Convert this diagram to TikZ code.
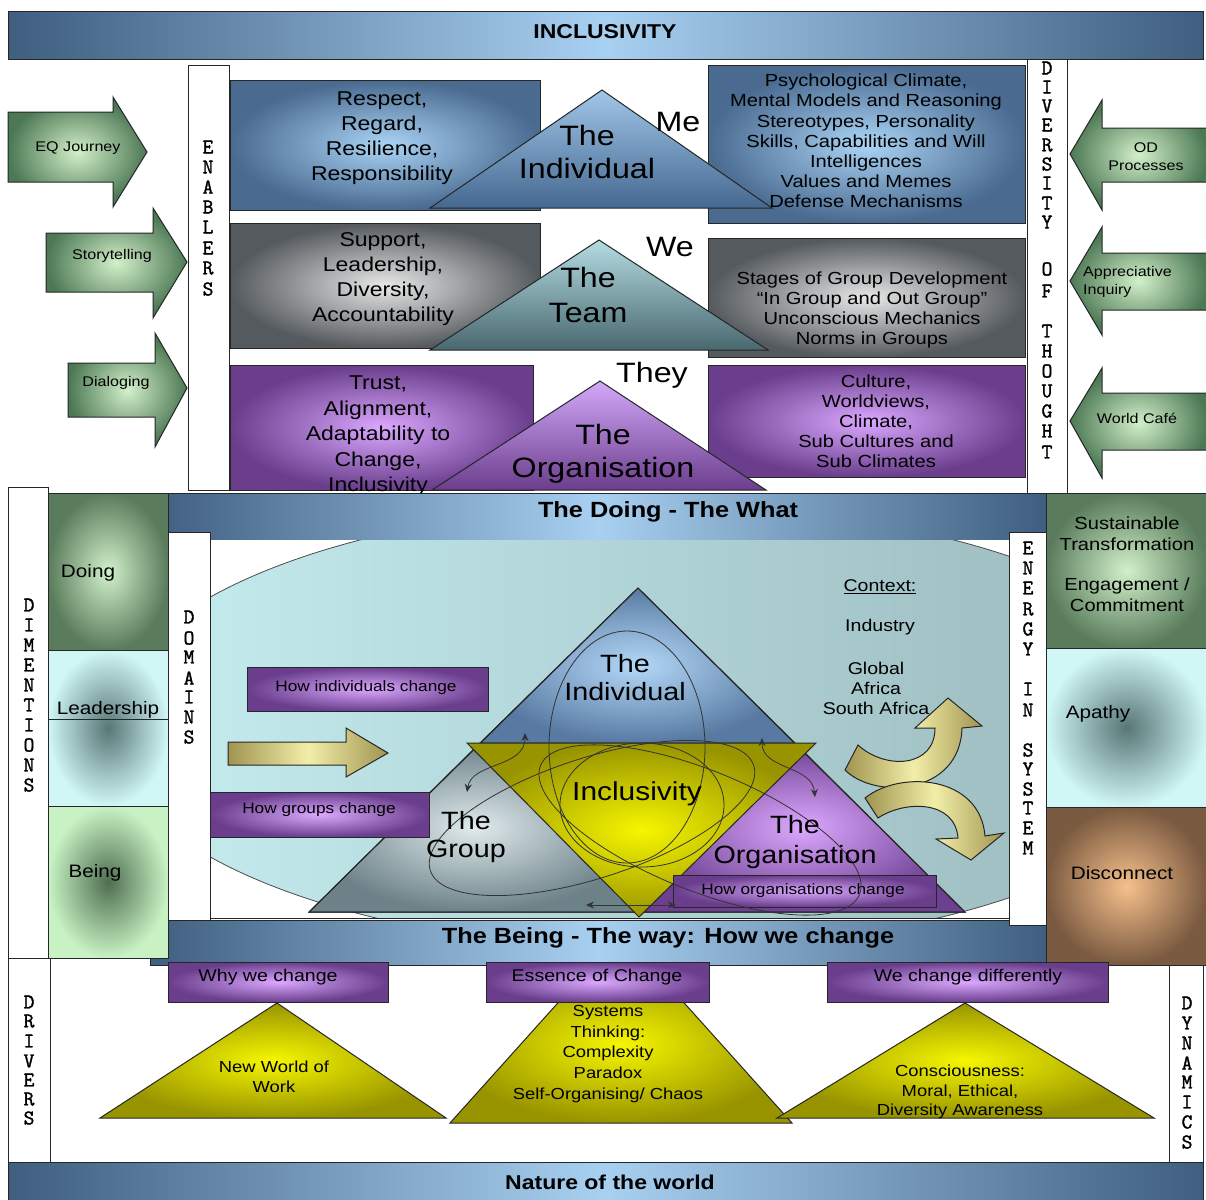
\documentclass[tikz,border=0pt]{standalone}
\usepackage{fontspec}
\setmainfont{Liberation Sans}[FakeStretch=1.15]
\newfontfamily\vfont{Latin Modern Mono}[FakeBold=1.6]
\usetikzlibrary{arrows.meta}
\definecolor{barD}{HTML}{3F5E80}
\definecolor{barL}{HTML}{A8D0F0}
\definecolor{bluD}{HTML}{4A6A90}
\definecolor{bluL}{HTML}{AAD4F6}
\definecolor{gryD}{HTML}{555A5E}
\definecolor{gryL}{HTML}{E8E8E8}
\definecolor{purD}{HTML}{6A3E8C}
\definecolor{purL}{HTML}{DAA8FF}
\definecolor{grnD}{HTML}{4C7854}
\definecolor{grnL}{HTML}{D2F0CA}
\definecolor{grnE}{HTML}{5A7C5C}
\definecolor{cyaL}{HTML}{D0F6F6}
\definecolor{cyaD}{HTML}{587676}
\definecolor{brnD}{HTML}{7A5A40}
\definecolor{brnL}{HTML}{F6C08C}
\definecolor{yelL}{HTML}{F6F600}
\definecolor{yelD}{HTML}{989400}
\definecolor{gldL}{HTML}{F2EEA8}
\definecolor{gldD}{HTML}{A09450}
\definecolor{ctxL}{HTML}{C6EEF0}
\definecolor{ctxR}{HTML}{98B6BA}
\definecolor{lgrL}{HTML}{C8F2C4}
\definecolor{lgrD}{HTML}{4E6E50}
\definecolor{triBT}{HTML}{A0C6E8}
\definecolor{triBB}{HTML}{456890}
\definecolor{triTT}{HTML}{B4DCE2}
\definecolor{triTB}{HTML}{48686E}
\definecolor{triPT}{HTML}{D4A8FA}
\definecolor{triPB}{HTML}{6A3E8C}
\definecolor{cBl}{HTML}{B4D8F8}
\definecolor{cBd}{HTML}{587AA2}
\definecolor{cGl}{HTML}{E0EAEC}
\definecolor{cGd}{HTML}{6C8288}
\definecolor{cPl}{HTML}{DCA8FF}
\definecolor{cPd}{HTML}{6C3F90}
\tikzset{
  olx/.style={draw=black!85, line width=1pt},
  barx/.style={olx, left color=barD, right color=barD, middle color=barL},
  stripx/.style={olx, fill=white},
  vlet/.style={inner sep=0pt, font=\vfont\fontsize{21}{21}\selectfont},
  radx/.style 2 args={olx, inner color=#1, outer color=#2},
  tbx/.style 2 args={olx, top color=#1, bottom color=#2},
  labx/.style={inner sep=0pt, align=center},
  fsx/.style 2 args={font=\fontsize{#1}{#2}\selectfont},
  bfx/.style 2 args={font=\bfseries\fontsize{#1}{#2}\selectfont},
  vloopx/.style={draw=black!80, line width=0.8pt},
  sarrx/.style={vloopx, {Stealth[length=8pt,width=7pt]}-{Stealth[length=8pt,width=7pt]}},
  garx/.style={olx, inner color=grnL, outer color=grnD},
  goldx/.style={olx, left color=gldD, right color=gldD, middle color=gldL},
}
\begin{document}
\begin{tikzpicture}[x=1pt,y=-1pt]
\useasboundingbox (0,0) rectangle (1206,1199);
\fill[white] (0,0) rectangle (1206,1199);

% ---------- top banner ----------
\draw[barx] (8,12) rectangle (1203,60);
\node[labx, bfx={20}{20}] (incl) at (605,32) {INCLUSIVITY};

% ---------- side strips (top) ----------
\draw[stripx] (188,65) rectangle (229,490);
\draw[stripx] (1027,60) rectangle (1067,493);
\foreach \ch/\yy [count=\i] in {E/147,N/167,A/187,B/207,L/227,E/248,R/268,S/289}
  \node[vlet] (en\i) at (208,\yy) {\ch};
\foreach \ch/\yy [count=\i] in {D/68,I/87,V/106,E/125,R/145,S/164,I/183,T/203,Y/222,O/269,F/291,T/331,H/351,O/371,U/391,G/411,H/431,T/452}
  \node[vlet] (dv\i) at (1047,\yy) {\ch};

% ---------- green arrows ----------
\draw[garx] (8,112) -- (113,112) -- (113,97) -- (147,152) -- (113,207) -- (113,182) -- (8,182) -- cycle;
\draw[garx] (46,233) -- (153,233) -- (153,208) -- (187,262) -- (153,318) -- (153,292) -- (46,292) -- cycle;
\draw[garx] (68,363) -- (155,363) -- (155,333) -- (187,388) -- (155,447) -- (155,417) -- (68,417) -- cycle;
\draw[garx] (1207,128) -- (1102,128) -- (1102,100) -- (1070,154) -- (1102,210) -- (1102,182) -- (1207,182) -- cycle;
\draw[garx] (1207,253) -- (1102,253) -- (1102,227) -- (1070,281) -- (1102,335) -- (1102,310) -- (1207,310) -- cycle;
\draw[garx] (1207,393) -- (1102,393) -- (1102,368) -- (1070,421) -- (1102,478) -- (1102,450) -- (1207,450) -- cycle;
\node[labx, fsx={14}{17}] (eq) at (78,148) {EQ Journey};
\node[labx, fsx={14}{17}] (story) at (112,256) {Storytelling};
\node[labx, fsx={14}{17}] (dialog) at (116,383) {Dialoging};
\node[labx, fsx={14}{18}] (odp) at (1146,157) {OD\\Processes};
\node[inner sep=0pt, align=left, anchor=west, fsx={14}{18}] (appr) at (1083,282) {Appreciative\\Inquiry};
\node[labx, fsx={14}{17}] (cafe) at (1137,418) {World Café};

% ---------- row 1 ----------
\draw[radx={bluL}{bluD}] (230,80) rectangle (540,210);
\draw[radx={bluL}{bluD}] (708,65) rectangle (1025,223);
\draw[tbx={triBT}{triBB}] (430,208) -- (602,90) -- (772,208) -- cycle;
\node[labx, fsx={20}{25}] (r1l) at (382,138) {Respect,\\Regard,\\Resilience,\\Responsibility};
\node[labx, fsx={17.5}{20.2}] (r1r) at (866,141) {Psychological Climate,\\Mental Models and Reasoning\\Stereotypes, Personality\\Skills, Capabilities and Will\\Intelligences\\Values and Memes\\Defense Mechanisms};
\node[labx, fsx={28}{33}] (ind) at (587,152) {The\\Individual};
\node[labx, fsx={28}{28}] (me) at (678,122) {Me};

% ---------- row 2 ----------
\draw[radx={gryL}{gryD}] (230,223) rectangle (540,348);
\draw[radx={gryL}{gryD}] (708,238) rectangle (1025,357);
\draw[tbx={triTT}{triTB}] (430,350) -- (599,240) -- (768,350) -- cycle;
\node[labx, fsx={20}{25}] (r2l) at (383,279) {Support,\\Leadership,\\Diversity,\\Accountability};
\node[labx, fsx={17.5}{20}] (r2r) at (872,310) {Stages of Group Development\\``In Group and Out Group''\\Unconscious Mechanics\\Norms in Groups};
\node[labx, fsx={28}{35}] (team) at (588,295) {The\\Team};
\node[labx, fsx={28}{28}] (we) at (670,247) {We};

% ---------- row 3 ----------
\draw[radx={purL}{purD}] (230,365) rectangle (533,490);
\draw[radx={purL}{purD}] (708,365) rectangle (1025,477);
\draw[tbx={triPT}{triPB}] (432,490) -- (600,381) -- (766,490) -- cycle;
\node[labx, fsx={20}{25.5}] (r3l) at (378,436) {Trust,\\Alignment,\\Adaptability to\\Change,\\Inclusivity};
\node[labx, fsx={17.5}{20}] (r3r) at (876,421) {Culture,\\Worldviews,\\Climate,\\Sub Cultures and\\Sub Climates};
\node[labx, fsx={28}{33}] (org) at (603,454) {The\\Organisation};
\node[labx, fsx={28}{28}] (they) at (652,375) {They};

% ---------- bottom frame ----------
\draw[olx, fill=white] (8,958) rectangle (1203,1162);
\draw[olx] (50,958) -- (50,1162);
\draw[olx] (1169,960) -- (1169,1162);

% ---------- middle section ----------
\draw[stripx] (8,487) rectangle (48,958);
\draw[barx] (150,493) rectangle (1046,540);
\draw[barx] (150,920) rectangle (1046,965);
\node[labx, bfx={22}{22}] (doing) at (668,512) {The Doing - The What};
\node[labx, bfx={22}{22}] (being) at (668,938) {The Being - The way: How we change};
\fill[white] (210,540) rectangle (1009,918);
\begin{scope}
  \clip (210,540) rectangle (1009,918);
  \draw[draw=black!70, line width=0.8pt, left color=ctxL, right color=ctxR] (657,727) ellipse [x radius=551pt, y radius=222pt];
\end{scope}
\draw[olx] (210,540) -- (210,918) -- (1009,918);
\draw[stripx] (168,532) rectangle (210,920);
\draw[stripx] (1009,532) rectangle (1046,925);
\foreach \ch/\yy [count=\i] in {D/605,I/625,M/645,E/665,N/685,T/705,I/725,O/745,N/765,S/785}
  \node[vlet] (dm\i) at (29,\yy) {\ch};
\foreach \ch/\yy [count=\i] in {D/617,O/638,M/657,A/678,I/697,N/717,S/737}
  \node[vlet] (do\i) at (189,\yy) {\ch};
\foreach \ch/\yy [count=\i] in {E/548,N/568,E/588,R/609,G/629,Y/649,I/689,N/710,S/750,Y/769,S/789,T/808,E/828,M/848}
  \node[vlet] (es\i) at (1028,\yy) {\ch};

% left boxes
\draw[radx={grnL}{grnE}] (48,493) rectangle (168,650);
\draw[radx={cyaD}{cyaL}] (48,650) rectangle (168,806);
\draw[olx] (48,719) -- (168,719);
\draw[radx={lgrD}{lgrL}] (48,806) rectangle (168,958);
\node[labx, fsx={18}{18}] (bdoing) at (88,573) {Doing};
\node[labx, fsx={18}{18}] (blead) at (108,710) {Leadership};
\node[labx, fsx={18}{18}] (bbeing) at (95,873) {Being};

% right boxes
\draw[radx={grnL}{grnE}] (1046,493) rectangle (1207,648);
\draw[radx={cyaD}{cyaL}] (1046,648) rectangle (1207,807);
\draw[radx={brnL}{brnD}] (1046,807) rectangle (1207,965);
\node[labx, fsx={17.5}{21}] (sust) at (1127,534) {Sustainable\\Transformation};
\node[labx, fsx={17.5}{21}] (eng) at (1127,595) {Engagement /\\Commitment};
\node[labx, fsx={18}{18}] (apathy) at (1098,714) {Apathy};
\node[labx, fsx={18}{18}] (disc) at (1122,873) {Disconnect};

% central triangle
\draw[radx={cBl}{cBd}] (638,588) -- (480,743) -- (795,743) -- cycle;
\draw[radx={cGl}{cGd}] (480,743) -- (309,912) -- (639,912) -- cycle;
\draw[radx={cPl}{cPd}] (795,743) -- (965,912) -- (639,912) -- cycle;
\draw[olx] (638,588) -- (309,912) -- (965,912) -- cycle;
\draw[radx={yelL}{yelD}] (467,743) -- (816,743) -- (639,917) -- cycle;

% purple boxes in middle
\draw[radx={purL}{purD}] (247,667) rectangle (488,711);
\draw[radx={purL}{purD}] (210,792) rectangle (429,837);
\draw[radx={purL}{purD}] (673,875) rectangle (936,907);
\node[labx, fsx={15}{15}] (hind) at (366,688) {How individuals change};
\node[labx, fsx={15}{15}] (hgrp) at (319,810) {How groups change};
\node[labx, fsx={15}{15}] (horg) at (803,891) {How organisations change};

% loops
\draw[vloopx] (627,747) ellipse [x radius=78pt, y radius=116pt];
\draw[vloopx, rotate around={18:(592,818)}] (592,818) ellipse [x radius=170pt, y radius=60pt];
\draw[vloopx, rotate around={-22:(700,830)}] (700,830) ellipse [x radius=172pt, y radius=60pt];
\draw[vloopx] (642,805) ellipse [x radius=82pt, y radius=62pt];
\coordinate (la1) at (525,733); \coordinate (la2) at (467,792);
\coordinate (ra1) at (762,738); \coordinate (ra2) at (815,797);
\coordinate (ba1) at (586,905); \coordinate (ba2) at (676,905);
\draw[sarrx] (la1) .. controls (525,768) and (472,762) .. (la2);
\draw[sarrx] (ra1) .. controls (762,770) and (812,765) .. (ra2);
\draw[sarrx] (ba1) -- (ba2);

% triangle labels
\node[labx, fsx={25}{28}] (mind) at (625,678) {The\\Individual};
\node[labx, fsx={26}{26}] (mincl) at (637,794) {Inclusivity};
\node[labx, fsx={25}{28}] (mgrp) at (466,837) {The\\Group};
\node[labx, fsx={25}{30}] (morg) at (795,842) {The\\Organisation};

% straight gold arrow
\draw[goldx] (228,742) -- (346,742) -- (346,728) -- (388,753) -- (346,777) -- (346,765) -- (228,765) -- cycle;

% context
\node[labx, fsx={17}{17}] (ctx) at (880,587) {\underline{Context:}};
\node[labx, fsx={17}{17}] (indus) at (880,627) {Industry};
\node[labx, fsx={17}{20}] (glob) at (876,688) {Global\\Africa\\South Africa};

% curved gold arrows
\draw[goldx] (858,745) -- (845,770) .. controls (875,800) and (960,795) .. (962,728) -- (982,726) -- (948,698) -- (915,728) -- (935,728) .. controls (935,768) and (885,770) .. (858,745) -- cycle;
\draw[goldx] (878,818) -- (865,798) .. controls (900,770) and (980,775) .. (985,836) -- (1004,833) -- (971,860) -- (936,839) -- (958,838) .. controls (955,800) and (905,800) .. (878,818) -- cycle;

% ---------- bottom section ----------
\foreach \ch/\yy [count=\i] in {D/1002,R/1021,I/1041,V/1061,E/1080,R/1099,S/1118}
  \node[vlet] (dr\i) at (29,\yy) {\ch};
\foreach \ch/\yy [count=\i] in {D/1003,Y/1023,N/1043,A/1063,M/1082,I/1102,C/1122,S/1142}
  \node[vlet] (dy\i) at (1187,\yy) {\ch};

\draw[radx={yelL}{yelD}] (277,1003) -- (100,1118) -- (446,1118) -- cycle;
\draw[radx={yelL}{yelD}] (591,966) -- (651,966) -- (792,1123) -- (450,1123) -- cycle;
\draw[radx={yelL}{yelD}] (965,1003) -- (777,1118) -- (1154,1118) -- cycle;

\draw[radx={purL}{purD}] (168,962) rectangle (388,1002);
\draw[radx={purL}{purD}] (486,962) rectangle (709,1002);
\draw[radx={purL}{purD}] (827,962) rectangle (1108,1002);
\node[labx, fsx={17}{17}] (why) at (268,977) {Why we change};
\node[labx, fsx={17}{17}] (ess) at (597,977) {Essence of Change};
\node[labx, fsx={17}{17}] (diff) at (968,977) {We change differently};

\node[labx, fsx={16}{20}] (nww) at (274,1077) {New World of\\Work};
\node[labx, fsx={16}{20.6}] (sys) at (608,1054) {Systems\\Thinking:\\Complexity\\Paradox\\Self-Organising/ Chaos};
\node[labx, fsx={16}{19.5}] (cons) at (960,1092) {Consciousness:\\Moral, Ethical,\\Diversity Awareness};

% ---------- bottom banner ----------
\draw[barx] (8,1162) rectangle (1203,1200);
\node[labx, bfx={20}{20}] (nature) at (610,1182) {Nature of the world};
\end{tikzpicture}
\end{document}
